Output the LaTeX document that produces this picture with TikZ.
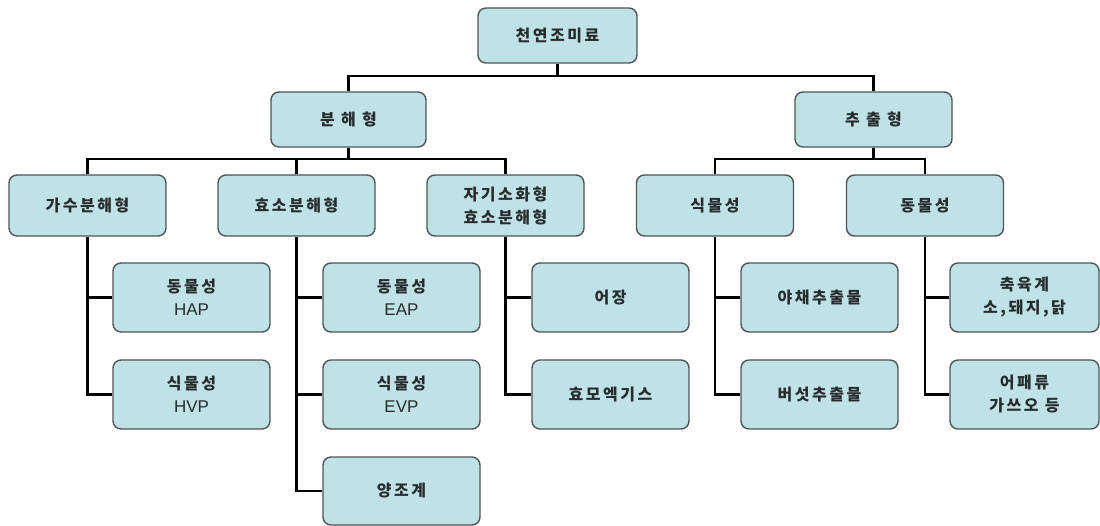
\documentclass[tikz,border=0pt]{standalone}
\usepackage{fontspec}
\newfontfamily\kr[LetterSpace=16]{Noto Sans CJK KR}
\newfontfamily\lat{Liberation Sans}
\newcommand{\lt}[1]{{\lat\mdseries\fontsize{17}{22}\selectfont #1}}
\definecolor{boxfill}{RGB}{191,226,231}
\definecolor{boxline}{RGB}{80,84,86}
\definecolor{txt}{RGB}{40,44,46}
\begin{document}
\begin{tikzpicture}[x=1pt,y=-1pt,
  box/.style={draw=boxline, line width=1.4pt, fill=boxfill, rounded corners=8pt,
    inner sep=0pt, align=center, text=txt, font=\kr\bfseries\fontsize{16}{23}\selectfont},
  conn/.style={draw=black, line width=2.7pt}]
\useasboundingbox (0,0) rectangle (1100,526);
% level 0 and 1
\node[box, minimum width=159pt, minimum height=55pt] (root) at (557.5,35.5) {천연조미료};
\node[box, minimum width=155pt, minimum height=55pt] (bun) at (348.5,119.5) {분 해 형};
\node[box, minimum width=157pt, minimum height=55pt] (chu) at (873.5,119.5) {추 출 형};
% level 2
\node[box, minimum width=157pt, minimum height=61pt] (ga) at (87.5,205.5) {가수분해형};
\node[box, minimum width=157pt, minimum height=61pt] (hyo) at (296.5,205.5) {효소분해형};
\node[box, minimum width=157pt, minimum height=61pt] (ja) at (505.5,205.5) {자기소화형\\효소분해형};
\node[box, minimum width=157pt, minimum height=61pt] (sik) at (715,205.5) {식물성};
\node[box, minimum width=157pt, minimum height=61pt] (dong) at (925,205.5) {동물성};
% level 3
\node[box, minimum width=157pt, minimum height=69pt] (hap) at (191.5,297.5) {동물성\\\lt{HAP}};
\node[box, minimum width=157pt, minimum height=69pt] (hvp) at (191.5,394.5) {식물성\\\lt{HVP}};
\node[box, minimum width=157pt, minimum height=69pt] (eap) at (401.5,297.5) {동물성\\\lt{EAP}};
\node[box, minimum width=157pt, minimum height=69pt] (evp) at (401.5,394.5) {식물성\\\lt{EVP}};
\node[box, minimum width=157pt, minimum height=68pt] (yang) at (401.5,491) {양조계};
\node[box, minimum width=157pt, minimum height=69pt] (eojang) at (610.5,297.5) {어장};
\node[box, minimum width=157pt, minimum height=69pt] (yeast) at (610.5,394.5) {효모엑기스};
\node[box, minimum width=157pt, minimum height=69pt] (veg) at (819.5,297.5) {야채추출물};
\node[box, minimum width=157pt, minimum height=69pt] (mush) at (819.5,394.5) {버섯추출물};
\node[box, minimum width=149pt, minimum height=69pt] (meat) at (1024.5,297.5) {축육계\\소,돼지,닭};
\node[box, minimum width=149pt, minimum height=69pt] (fish) at (1024.5,394.5) {어패류\\가쓰오 등};
% buses
\coordinate (bus1) at (0,76);
\coordinate (bus2) at (0,159);
\draw[conn] (root.south) -- (root.south |- bus1);
\draw[conn] (bun.north) |- (chu.north |- bus1) -- (chu.north);
\draw[conn] (bun.south) -- (bun.south |- bus2);
\draw[conn] (ga.north) |- (ja.north |- bus2) -- (ja.north);
\draw[conn] (hyo.north) -- (hyo.north |- bus2);
\draw[conn] (chu.south) -- (chu.south |- bus2);
\draw[conn] (sik.north) |- (dong.north |- bus2) -- (dong.north);
% level 3 connectors
\draw[conn] (ga.south) |- (hvp.west);
\draw[conn] (ga.south |- hap.west) -- (hap.west);
\draw[conn] (hyo.south) |- (yang.west);
\draw[conn] (hyo.south |- eap.west) -- (eap.west);
\draw[conn] (hyo.south |- evp.west) -- (evp.west);
\draw[conn] (ja.south) |- (yeast.west);
\draw[conn] (ja.south |- eojang.west) -- (eojang.west);
\draw[conn] (sik.south) |- (mush.west);
\draw[conn] (sik.south |- veg.west) -- (veg.west);
\draw[conn] (dong.south) |- (fish.west);
\draw[conn] (dong.south |- meat.west) -- (meat.west);
\end{tikzpicture}
\end{document}
